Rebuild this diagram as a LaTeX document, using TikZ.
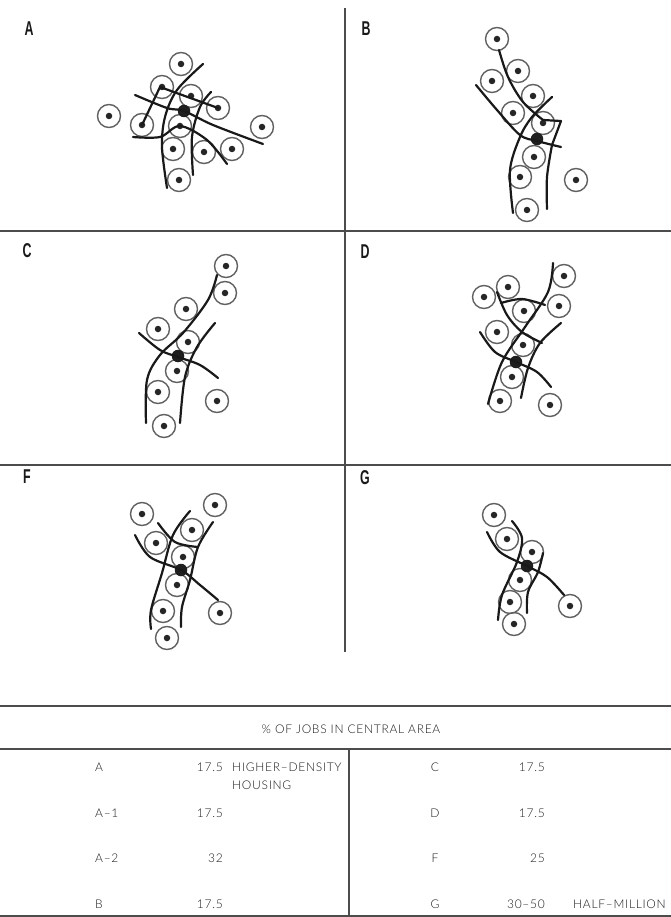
\documentclass[tikz,border=0pt]{standalone}
\usepackage{fontspec}
\setmainfont{Lato Light}
\newfontfamily\headfont[FakeStretch=0.62,BoldFeatures={FakeStretch=0.62}]{Liberation Sans}
\tikzset{
  x=1pt,y=-1pt,
  ring/.style={circle,draw=black!62,line width=1.4pt,minimum size=23pt,inner sep=0pt},
  dotmark/.style={circle,fill=black!85,minimum size=6.5pt,inner sep=0pt},
  hub/.style={circle,fill=black!88,minimum size=12.5pt,inner sep=0pt},
  road/.style={draw=black!90,line width=2.2pt,line cap=round,line join=round},
  rule/.style={draw=black!70,line width=1.3pt},
  panel/.style={font=\headfont\bfseries\fontsize{20}{20}\selectfont,text=black!90,inner sep=0pt},
  cell/.style={font=\fontsize{12}{14}\selectfont\addfontfeatures{LetterSpace=6},text=black!90,inner sep=0pt}
}
\newcommand{\zones}[2]{\foreach \n/\p in {#2}{\node[ring] (#1\n) at (\p) {}; \node[dotmark] at (#1\n.center) {};}}
\newcommand{\roadline}[1]{\draw[road] plot[smooth,tension=0.55] coordinates {#1};}
\begin{document}
\begin{tikzpicture}
\useasboundingbox (0,0) rectangle (671,917);
% frame rules
\coordinate (vt) at (345,8); \coordinate (vb) at (345,652);
\coordinate (h1l) at (0,231); \coordinate (h1r) at (671,231);
\coordinate (h2l) at (0,465); \coordinate (h2r) at (671,465);
\draw[rule] (vt) -- (vb); \draw[rule] (h1l) -- (h1r); \draw[rule] (h2l) -- (h2r);
% labels
\node[panel] (la) at (29,29) {A}; \node[panel] (lb) at (366,29) {B};
\node[panel] (lc) at (27,251) {C}; \node[panel] (ld) at (365,252) {D};
\node[panel] (lf) at (27,477) {F}; \node[panel] (lg) at (365,478) {G};
% Panel A
\zones{a}{1/{181,64},2/{162,87},3/{191,96},4/{218,108},5/{262,127},6/{109,116},7/{142,125},8/{180,126},9/{173,149},10/{204,152},11/{232,149},12/{179,180}}
\node[hub] (ah) at (184,111) {};
\roadline{(203,64)(177,90)(165,117)(162,147)(167,188)}
\roadline{(211,92)(200,107)(192,137)(193,175)}
\roadline{(135,95)(167,108)(184,111)(213,125)(263,144)}
\draw[road] (142,125) -- (160,87) -- (218,108);
\roadline{(133,137)(160,137)(180,126)(207,140)(227,164)}
% Panel B
\zones{b}{1/{497,39},2/{518,71},3/{492,81},4/{533,96},5/{513,113},6/{543,123},7/{534,157},8/{520,177},9/{576,180},10/{527,210}}
\node[hub] (bh) at (537,139) {};
\roadline{(499,50)(508,77)(523,102)(543,120)}
\draw[road] (543,120) -- (561,121) -- (552,145);
\roadline{(552,145)(547,177)(547,209)}
\roadline{(476,85)(497,110)(520,135)(537,141)(561,147)}
\roadline{(552,97)(532,117)(520,137)(510,170)(513,213)}
% Panel C
\zones{c}{1/{226,266},2/{225,293},3/{186,309},4/{158,329},5/{188,342},6/{177,371},7/{158,392},8/{217,401},9/{164,426}}
\node[hub] (ch) at (178,356) {};
\roadline{(217,275)(208,300)(183,333)(160,355)(147,380)(146,423)}
\roadline{(215,323)(197,347)(185,377)(180,423)}
\roadline{(139,333)(160,350)(178,357)(200,365)(218,378)}
% Panel D
\zones{d}{1/{564,276},2/{508,287},3/{484,297},4/{559,306},5/{524,311},6/{497,332},7/{523,345},8/{512,377},9/{500,401},10/{550,405}}
\node[hub] (dh) at (516,362) {};
\roadline{(553,263)(548,292)(525,327)(502,362)(488,404)}
\roadline{(561,323)(540,343)(528,368)(521,398)}
\roadline{(480,332)(495,352)(516,362)(537,372)(551,387)}
\roadline{(497,292)(507,315)(522,332)(542,343)}
\roadline{(501,303)(522,299)(545,305)}
% Panel F
\zones{f}{1/{215,505},2/{142,514},3/{192,530},4/{156,543},5/{183,557},6/{177,585},7/{163,611},8/{220,613},9/{167,638}}
\node[hub] (fh) at (181,570) {};
\roadline{(190,511)(173,535)(162,573)(151,610)(151,629)}
\roadline{(213,522)(198,547)(190,580)(182,607)(181,627)}
\roadline{(135,535)(150,557)(181,570)(200,585)(218,600)}
\roadline{(158,523)(175,542)(198,547)}
% Panel G
\zones{g}{1/{494,515},2/{507,539},3/{532,552},4/{520,580},5/{510,602},6/{570,606},7/{514,624}}
\node[hub] (gh) at (527,566) {};
\roadline{(512,521)(522,538)(517,562)(502,595)(498,620)}
\roadline{(543,553)(538,572)(528,592)(527,613)}
\roadline{(487,532)(500,552)(527,566)(547,577)(564,595)}
% Table
\coordinate (t1l) at (0,706); \coordinate (t1r) at (671,706);
\coordinate (t2l) at (0,749); \coordinate (t2r) at (671,749);
\coordinate (t3l) at (0,916); \coordinate (t3r) at (671,916);
\coordinate (tvt) at (349,749); \coordinate (tvb) at (349,916);
\draw[rule] (t1l) -- (t1r); \draw[rule] (t2l) -- (t2r); \draw[rule] (t3l) -- (t3r); \draw[rule] (tvt) -- (tvb);
\node[cell] (title) at (351,729) {\% OF JOBS IN CENTRAL AREA};
\node[cell,anchor=west] (r1) at (95,767) {A};
\node[cell,anchor=west] (r2) at (95,813) {A–1};
\node[cell,anchor=west] (r3) at (95,858) {A–2};
\node[cell,anchor=west] (r4) at (95,904) {B};
\node[cell,anchor=east] (v1) at (223,767) {17.5};
\node[cell,anchor=east] (v2) at (223,813) {17.5};
\node[cell,anchor=east] (v3) at (223,858) {32};
\node[cell,anchor=east] (v4) at (223,904) {17.5};
\node[cell,anchor=west] (n1) at (232,767) {HIGHER–DENSITY};
\node[cell,anchor=west] (n2) at (232,785) {HOUSING};
\node[cell] (r5) at (435,767) {C};
\node[cell] (r6) at (435,813) {D};
\node[cell] (r7) at (435,858) {F};
\node[cell] (r8) at (435,904) {G};
\node[cell,anchor=east] (v5) at (545,767) {17.5};
\node[cell,anchor=east] (v6) at (545,813) {17.5};
\node[cell,anchor=east] (v7) at (545,858) {25};
\node[cell,anchor=east] (v8) at (545,904) {30–50};
\node[cell,anchor=west] (n3) at (573,904) {HALF–MILLION};
\end{tikzpicture}
\end{document}
